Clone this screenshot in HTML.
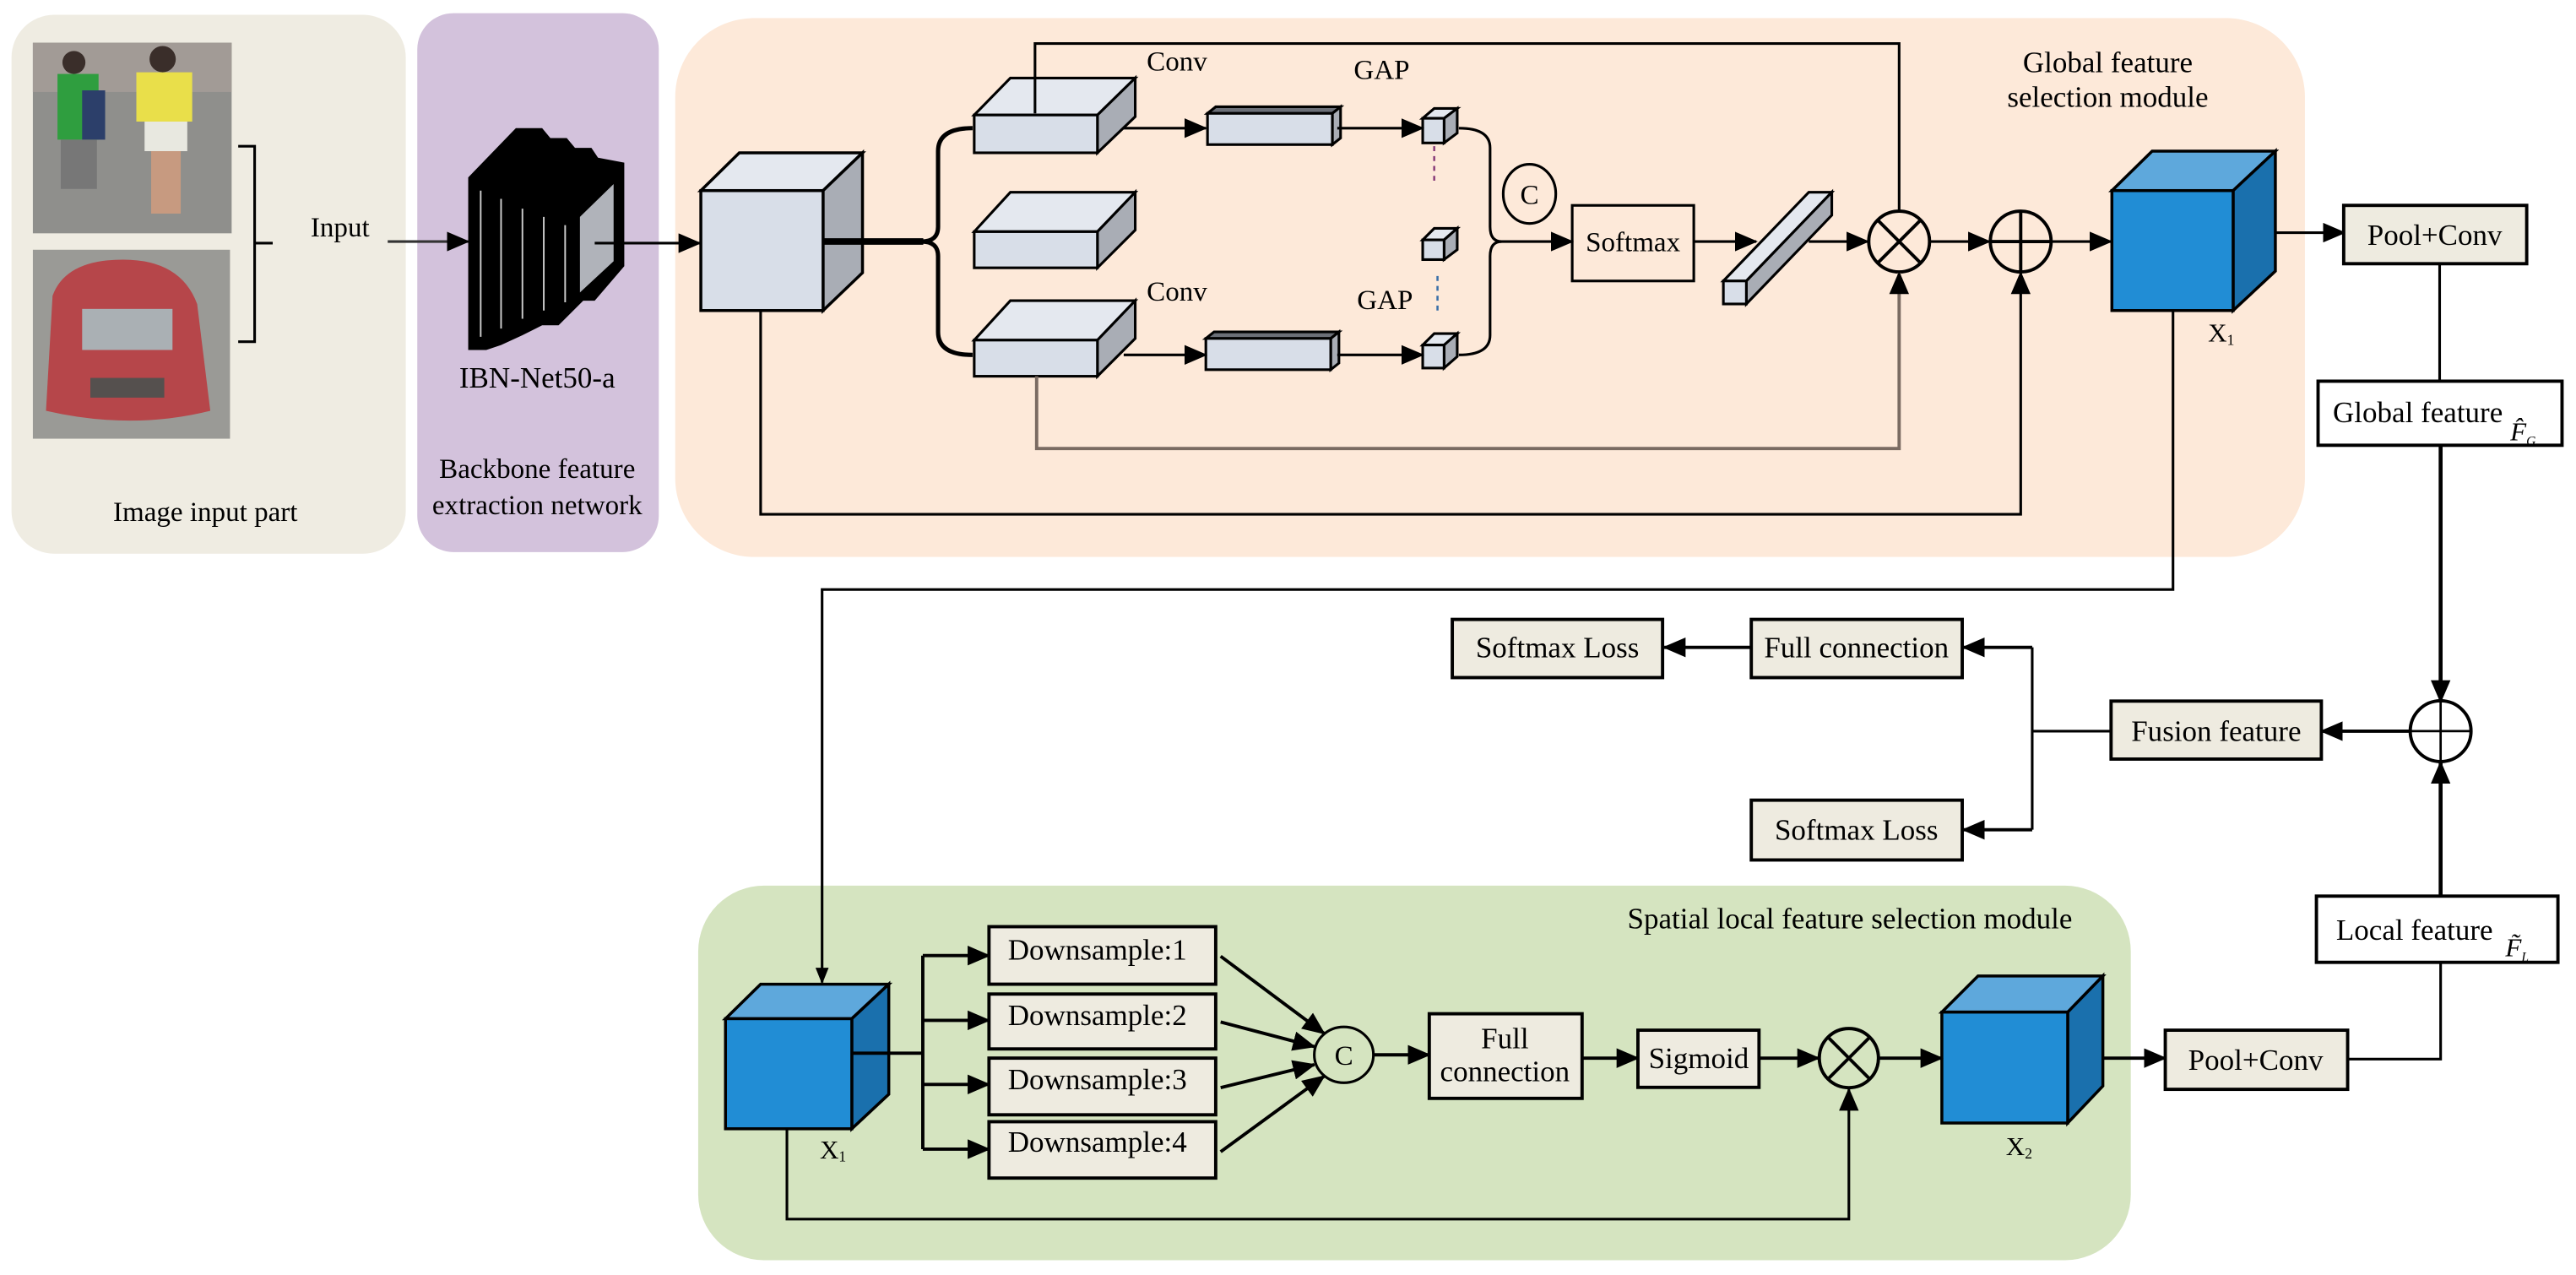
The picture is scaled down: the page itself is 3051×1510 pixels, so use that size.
<!DOCTYPE html>
<html><head><meta charset="utf-8"><style>
html,body{margin:0;padding:0;background:#fff;}
svg{display:block;}
svg text{font-family:"Liberation Serif","DejaVu Serif",serif;fill:#000;}
</style></head><body>
<svg width="3051" height="1510" viewBox="0 0 1568 776" preserveAspectRatio="none" xmlns="http://www.w3.org/2000/svg" font-family="Liberation Serif, serif">
<defs>
<marker id="a" markerUnits="userSpaceOnUse" markerWidth="14" markerHeight="12" refX="13" refY="6" orient="auto"><path d="M0,0 L14,6 L0,12 z" fill="#000"/></marker>
<marker id="b" markerUnits="userSpaceOnUse" markerWidth="10" markerHeight="8" refX="9" refY="4" orient="auto"><path d="M0,0 L10,4 L0,8 z" fill="#000"/></marker>
</defs>
<rect x="7" y="9" width="240" height="328" rx="26" fill="#efece2"/>
<rect x="254" y="8" width="147" height="328" rx="22" fill="#d3c2dc"/>
<rect x="411" y="11" width="992" height="328" rx="48" fill="#fde9d9"/>
<rect x="425" y="539" width="872" height="228" rx="40" fill="#d5e4c0"/>

<rect x="20" y="26" width="121" height="116" fill="#8f8f8c"/>
<rect x="20" y="26" width="121" height="30" fill="#a29b96"/>
<rect x="35" y="45" width="25" height="40" fill="#2f9e3f"/>
<rect x="50" y="55" width="14" height="30" fill="#2c3f6a"/>
<rect x="37" y="85" width="22" height="30" fill="#777"/>
<circle cx="45" cy="38" r="7" fill="#3a2e2a"/>
<rect x="83" y="44" width="34" height="30" fill="#e9df4a"/>
<rect x="88" y="74" width="26" height="18" fill="#e8e8e0"/>
<rect x="92" y="92" width="18" height="38" fill="#c79a80"/>
<circle cx="99" cy="36" r="8" fill="#3a2e2a"/>
<rect x="20" y="152" width="120" height="115" fill="#9a9a96"/>
<path d="M32,180 Q40,158 75,158 Q110,158 120,185 L128,250 Q80,262 28,250 Z" fill="#b6464a"/>
<rect x="50" y="188" width="55" height="25" fill="#aab0b4"/>
<rect x="55" y="230" width="45" height="12" fill="#55504e"/>

<path d="M145,89 L155,89 L155,208 L145,208 M155,148 L166,148" fill="none" stroke="#000" stroke-width="1.6"/>
<text x="207" y="144" font-size="17" text-anchor="middle">Input</text>
<line x1="236" y1="147" x2="285" y2="147" stroke="#333" stroke-width="1.6" marker-end="url(#a)"/>

<polygon points="285,108 314,78 330,78 335,84 345,84 350,90 360,90 364,96 380,99 380,162 362,183 355,183 340,198 330,198 318,204 305,210 296,213 285,213" fill="#000"/>
<polygon points="353,132 373.5,112 373.5,159 353,178" fill="#b0b3ba"/>
<g stroke="#ccc" stroke-width="1"><line x1="292.6" y1="116" x2="292.6" y2="205"/><line x1="305" y1="121" x2="305" y2="200"/><line x1="318" y1="127" x2="318" y2="194"/><line x1="331" y1="132" x2="331" y2="189"/><line x1="344" y1="137" x2="344" y2="184"/></g>
<text x="327" y="236" font-size="18" text-anchor="middle">IBN-Net50-a</text>
<text x="327" y="291" font-size="17" text-anchor="middle">Backbone feature</text>
<text x="327" y="313" font-size="17" text-anchor="middle">extraction network</text>
<text x="125" y="317" font-size="17" text-anchor="middle">Image input part</text>
<line x1="362" y1="148" x2="426" y2="148" stroke="#000" stroke-width="1.6" marker-end="url(#a)"/>

<g stroke="#000" stroke-width="1.8">
<polygon points="426.6,116 450,93 525,93 501,116" fill="#e4e8ef"/>
<polygon points="501,116 525,93 525,166 501,189" fill="#a9adb5"/>
<rect x="426.6" y="116" width="74.4" height="73" fill="#d8dee8"/>
</g>
<line x1="501" y1="147" x2="562" y2="147" stroke="#000" stroke-width="4"/>
<path d="M592,78 Q571,78 571,92 L571,138 Q571,147 561,147 Q571,147 571,156 L571,202 Q571,216 592,216" fill="none" stroke="#000" stroke-width="2.6"/>

<g stroke="#000" stroke-width="1.6">
<polygon points="593,70 615,47.5 691,47.5 668,70" fill="#e4e8ef"/><polygon points="668,70 691,47.5 691,71 668,93" fill="#a9adb5"/><rect x="593" y="70" width="75" height="23" fill="#d8dee8"/>
<polygon points="593,141 615,117 691,117 668,141" fill="#e4e8ef"/><polygon points="668,141 691,117 691,140 668,163" fill="#a9adb5"/><rect x="593" y="141" width="75" height="22" fill="#d8dee8"/>
<polygon points="593,207 615,183 691,183 668,207" fill="#e4e8ef"/><polygon points="668,207 691,183 691,206 668,229" fill="#a9adb5"/><rect x="593" y="207" width="75" height="22" fill="#d8dee8"/>
<polygon points="735,69 740,65 816,65 811,69" fill="#6b6f77"/><polygon points="811,69 816,65 816,84 811,88" fill="#a9adb5"/><rect x="735" y="69" width="76" height="19" fill="#d8dee8"/>
<polygon points="734,206 739,202 815,202 810,206" fill="#6b6f77"/><polygon points="810,206 815,202 815,221 810,225" fill="#a9adb5"/><rect x="734" y="206" width="76" height="19" fill="#d8dee8"/>
<polygon points="866,72 873,66 887,66 879,72" fill="#e4e8ef"/><polygon points="879,72 887,66 887,81 879,87" fill="#a9adb5"/><rect x="866" y="72" width="13" height="15" fill="#d8dee8"/>
<polygon points="866,146 873,139 887,139 879,146" fill="#e4e8ef"/><polygon points="879,146 887,139 887,152 879,158" fill="#a9adb5"/><rect x="866" y="146" width="13" height="12" fill="#d8dee8"/>
<polygon points="866,210 873,203 887,203 879,210" fill="#e4e8ef"/><polygon points="879,210 887,203 887,217 879,224" fill="#a9adb5"/><rect x="866" y="210" width="13" height="14" fill="#d8dee8"/>
</g>
<line x1="873" y1="89" x2="873" y2="110" stroke="#8a3f7a" stroke-width="1.3" stroke-dasharray="3,3"/>
<line x1="875" y1="168" x2="875" y2="189" stroke="#3a6fa8" stroke-width="1.3" stroke-dasharray="3,3"/>
<text x="698" y="43" font-size="17">Conv</text>
<text x="824" y="48" font-size="17">GAP</text>
<text x="698" y="183" font-size="17">Conv</text>
<text x="826" y="188" font-size="17">GAP</text>
<g stroke="#000" stroke-width="1.6" fill="none">
<line x1="684" y1="78" x2="734" y2="78" marker-end="url(#a)"/>
<line x1="814" y1="78" x2="866" y2="78" marker-end="url(#a)"/>
<line x1="684" y1="216" x2="734" y2="216" marker-end="url(#a)"/>
<line x1="814" y1="216" x2="866" y2="216" marker-end="url(#a)"/>
<path d="M888,78 Q907,78 907,90 L907,138 Q907,147 914,147 M888,216 Q907,216 907,204 L907,156 Q907,147 914,147"/>
<line x1="912" y1="147" x2="957" y2="147" marker-end="url(#a)"/>
<ellipse cx="931" cy="118" rx="16" ry="18"/>
</g>
<text x="931" y="124" font-size="17" text-anchor="middle">C</text>
<rect x="957" y="125" width="74" height="46" fill="none" stroke="#000" stroke-width="1.6"/>
<text x="994" y="153" font-size="17" text-anchor="middle">Softmax</text>
<g stroke="#000" stroke-width="1.6">
<polygon points="1049,171 1101,117 1115,117 1063,171" fill="#e4e8ef"/>
<polygon points="1063,171 1115,117 1115,131 1063,185" fill="#a9adb5"/>
<rect x="1049" y="171" width="14" height="14" fill="#d8dee8"/>
</g>
<g stroke="#000" stroke-width="1.6" fill="none">
<line x1="1031" y1="147" x2="1069" y2="147" marker-end="url(#a)"/>
<line x1="1101" y1="147" x2="1137" y2="147" marker-end="url(#a)"/>
<circle cx="1156" cy="147" r="18.5" stroke-width="2"/>
<path d="M1143,134 L1169,160 M1169,134 L1143,160" stroke-width="2"/>
<line x1="1175" y1="147" x2="1211" y2="147" marker-end="url(#a)"/>
<circle cx="1230" cy="147" r="18.5" stroke-width="2"/>
<path d="M1211.5,147 L1248.5,147 M1230,128.5 L1230,165.5" stroke-width="2"/>
<line x1="1249" y1="147" x2="1285" y2="147" marker-end="url(#a)"/>
<path d="M630,69 L630,26.5 L1156,26.5 L1156,128.5"/>
<path d="M631,229 L631,273 L1156,273 L1156,166" stroke="#7a6b62" stroke-width="2" marker-end="url(#a)"/>
<path d="M463,189 L463,313 L1230,313 L1230,166" marker-end="url(#a)"/>
</g>
<g stroke="#000" stroke-width="1.8">
<polygon points="1285.5,116 1310,92 1385,92 1359.3,116" fill="#5ea8dc"/>
<polygon points="1359.3,116 1385,92 1385,165 1359.3,189" fill="#1a70ad"/>
<rect x="1285.5" y="116" width="73.8" height="73" fill="#218dd5"/>
</g>
<text x="1344" y="208" font-size="16">X<tspan font-size="9" dy="2">1</tspan></text>
<text x="1283" y="44" font-size="18" text-anchor="middle">Global feature</text>
<text x="1283" y="65" font-size="18" text-anchor="middle">selection module</text>

<g stroke="#000" stroke-width="1.6" fill="none">
<line x1="1385" y1="141.6" x2="1427" y2="141.6" marker-end="url(#a)"/>
<line x1="1485" y1="160.5" x2="1485" y2="232"/>
<line x1="1485.6" y1="271" x2="1485.6" y2="427" stroke-width="2.4" marker-end="url(#a)"/>
<circle cx="1485.6" cy="445" r="18.5" stroke-width="2"/>
<path d="M1467,445 L1504,445 M1485.6,426.5 L1485.6,463.5" stroke-width="1.4"/>
<line x1="1467" y1="445" x2="1413" y2="445" stroke-width="2" marker-end="url(#a)"/>
<line x1="1485.6" y1="545" x2="1485.6" y2="464" stroke-width="2.4" marker-end="url(#a)"/>
<path d="M1485.6,586 L1485.6,644.6 L1429,644.6"/>
<path d="M1285,445 L1237,445 M1237,394 L1237,505"/>
<line x1="1237" y1="394" x2="1195" y2="394" stroke-width="2" marker-end="url(#a)"/>
<line x1="1237" y1="505" x2="1195" y2="505" stroke-width="2" marker-end="url(#a)"/>
<line x1="1066" y1="394" x2="1013" y2="394" stroke-width="2" marker-end="url(#a)"/>
<path d="M1322.7,189 L1322.7,358.8 L500.4,358.8 L500.4,598" marker-end="url(#b)"/>
</g>
<g stroke="#000" stroke-width="2">
<rect x="1426.6" y="125" width="111.4" height="35.5" fill="#eeebe0"/>
<rect x="1411" y="232" width="148.5" height="39" fill="#fff"/>
<rect x="1285" y="426.7" width="128" height="35.3" fill="#eeebe0"/>
<rect x="1066" y="377" width="128.4" height="35.4" fill="#eeebe0"/>
<rect x="884" y="377" width="128" height="35.4" fill="#eeebe0"/>
<rect x="1066" y="487" width="128.4" height="36.4" fill="#eeebe0"/>
<rect x="1410" y="545.4" width="147" height="40.3" fill="#fff"/>
</g>
<text x="1482" y="149" font-size="18" text-anchor="middle">Pool+Conv</text>
<text x="1420" y="257" font-size="18">Global feature</text>
<text x="1528" y="268" font-size="16" font-style="italic">F̂<tspan font-size="8" dy="3">G</tspan></text>
<text x="1349" y="451" font-size="18" text-anchor="middle">Fusion feature</text>
<text x="1130" y="400" font-size="18" text-anchor="middle">Full connection</text>
<text x="948" y="400" font-size="18" text-anchor="middle">Softmax Loss</text>
<text x="1130" y="511" font-size="18" text-anchor="middle">Softmax Loss</text>
<text x="1422" y="572" font-size="18">Local feature</text>
<text x="1525" y="582" font-size="16" font-style="italic">F̃<tspan font-size="8" dy="3">L</tspan></text>

<text x="1126" y="565" font-size="18" text-anchor="middle">Spatial local feature selection module</text>
<g stroke="#000" stroke-width="1.8">
<polygon points="441.6,620 463,599 541,599 518.5,620" fill="#5ea8dc"/>
<polygon points="518.5,620 541,599 541,666 518.5,687" fill="#1a70ad"/>
<rect x="441.6" y="620" width="76.9" height="67" fill="#218dd5"/>
<polygon points="1182,616 1204,594 1280,594 1258.6,616" fill="#5ea8dc"/>
<polygon points="1258.6,616 1280,594 1280,661 1258.6,683.5" fill="#1a70ad"/>
<rect x="1182" y="616" width="76.6" height="67.5" fill="#218dd5"/>
</g>
<text x="499" y="705" font-size="16">X<tspan font-size="9" dy="2">1</tspan></text>
<text x="1221" y="703" font-size="16">X<tspan font-size="9" dy="2">2</tspan></text>
<g stroke="#000" stroke-width="2" fill="none">
<line x1="518.5" y1="641" x2="561.7" y2="641"/>
<line x1="561.7" y1="581.6" x2="561.7" y2="699.4"/>
<line x1="561.7" y1="581.6" x2="602" y2="581.6" marker-end="url(#a)"/>
<line x1="561.7" y1="621" x2="602" y2="621" marker-end="url(#a)"/>
<line x1="561.7" y1="660" x2="602" y2="660" marker-end="url(#a)"/>
<line x1="561.7" y1="699.4" x2="602" y2="699.4" marker-end="url(#a)"/>
<line x1="743" y1="582" x2="806" y2="629" marker-end="url(#a)"/>
<line x1="743" y1="622" x2="800" y2="637" marker-end="url(#a)"/>
<line x1="743" y1="662" x2="800" y2="648" marker-end="url(#a)"/>
<line x1="743" y1="701" x2="806" y2="655" marker-end="url(#a)"/>
<ellipse cx="818" cy="642" rx="18" ry="17" stroke-width="1.6"/>
<line x1="836" y1="642" x2="870" y2="642" marker-end="url(#a)"/>
<line x1="963" y1="644" x2="997" y2="644" marker-end="url(#a)"/>
<line x1="1071" y1="644" x2="1107" y2="644" marker-end="url(#a)"/>
<circle cx="1125.4" cy="644" r="18"/>
<path d="M1112.7,631.3 L1138.1,656.7 M1138.1,631.3 L1112.7,656.7"/>
<line x1="1143.5" y1="644" x2="1182" y2="644" marker-end="url(#a)"/>
<line x1="1280" y1="644" x2="1318" y2="644" marker-end="url(#a)"/>
<path d="M479,687 L479,742 L1125.4,742 L1125.4,663" stroke-width="1.6" marker-end="url(#a)"/>
</g>
<g stroke="#000" stroke-width="2" fill="#eeebe0">
<rect x="602" y="564" width="138" height="35"/>
<rect x="602" y="605" width="138" height="33.4"/>
<rect x="602" y="644" width="138" height="34.5"/>
<rect x="602" y="682.7" width="138" height="34.3"/>
<rect x="870" y="617" width="93" height="51.5"/>
<rect x="997" y="627" width="73.7" height="34.8"/>
<rect x="1318" y="627" width="111" height="36"/>
</g>
<g font-size="18" text-anchor="middle">
<text x="668" y="584">Downsample:1</text>
<text x="668" y="624">Downsample:2</text>
<text x="668" y="663">Downsample:3</text>
<text x="668" y="701">Downsample:4</text>
<text x="916" y="638">Full</text>
<text x="916" y="658">connection</text>
<text x="1034" y="650">Sigmoid</text>
<text x="1373" y="651">Pool+Conv</text>
</g>
<text x="818" y="648" font-size="17" text-anchor="middle">C</text>
</svg>
</body></html>
